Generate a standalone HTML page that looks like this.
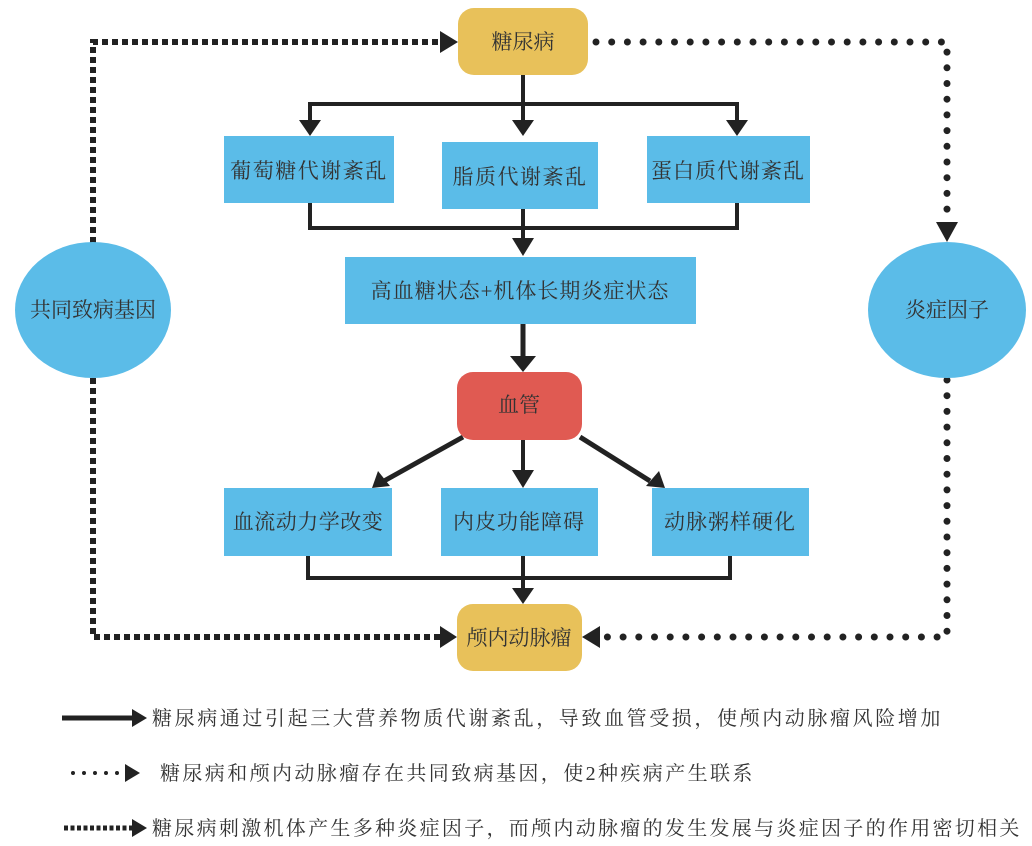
<!DOCTYPE html>
<html><head><meta charset="utf-8"><style>
html,body{margin:0;padding:0;background:#fff;}
svg{display:block;}
text{font-family:"Liberation Serif","Noto Serif CJK SC",serif;fill:#333;}
</style></head><body>
<svg width="1032" height="846" viewBox="0 0 1032 846" xmlns="http://www.w3.org/2000/svg">
<g stroke="#222" stroke-width="6" fill="none" stroke-dasharray="6 4">
<path d="M93,243 V42 H440"/>
<path d="M93,378 V637 H440"/>
</g>
<polygon points="440,31 458,42 440,53" fill="#222"/>
<polygon points="440,626 457,637 440,648" fill="#222"/>
<g stroke="#222" stroke-width="7" fill="none" stroke-dasharray="0 15.7" stroke-linecap="round">
<path d="M596,42 H947 V224"/>
<path d="M947,380 V637 H600"/>
</g>
<polygon points="936,222 958,222 947,242" fill="#222"/>
<polygon points="600,626 582,637 600,648" fill="#222"/>

<g stroke="#222" stroke-width="4" fill="none">
<path d="M523,75 V122"/>
<path d="M310,122 V104 H737 V122"/>
<path d="M310,203 V228 H737 V203"/>
<path d="M523,209 V240"/>
<path d="M523,324 V358" stroke-width="5"/>
<path d="M463,437 L384,481" stroke-width="5"/>
<path d="M523,440 V472"/>
<path d="M580,437 L650,481" stroke-width="5"/>
<path d="M308,556 V578 H730 V556"/>
<path d="M523,556 V590"/>
</g>
<g fill="#222">
<polygon points="299,120 321,120 310,136"/>
<polygon points="512,120 534,120 523,136"/>
<polygon points="726,120 748,120 737,136"/>
<polygon points="512,238 534,238 523,256"/>
<polygon points="510,356 536,356 523,372"/>
<polygon points="512,470 534,470 523,488"/>
<polygon points="512,588 534,588 523,604"/>
<polygon points="372,488 378,471 390,486"/>
<polygon points="665,488 646,486 659,471"/>
</g>

<rect x="458" y="8" width="130" height="67" rx="16" fill="#E8C15A"/>
<text x="523" y="49" font-size="21" text-anchor="middle">糖尿病</text>

<rect x="224" y="136" width="170" height="67" fill="#5BBCE8"/>
<text x="309" y="178" font-size="21" text-anchor="middle" letter-spacing="1.5">葡萄糖代谢紊乱</text>
<rect x="442" y="142" width="156" height="67" fill="#5BBCE8"/>
<text x="520" y="184" font-size="21" text-anchor="middle" letter-spacing="1.5">脂质代谢紊乱</text>
<rect x="647" y="136" width="163" height="67" fill="#5BBCE8"/>
<text x="728" y="178" font-size="21" text-anchor="middle" letter-spacing="1">蛋白质代谢紊乱</text>

<rect x="345" y="257" width="351" height="67" fill="#5BBCE8"/>
<text x="520" y="298" font-size="21" text-anchor="middle" letter-spacing="1">高血糖状态+机体长期炎症状态</text>

<rect x="457" y="372" width="125" height="68" rx="16" fill="#E05A52"/>
<text x="519" y="412" font-size="21" text-anchor="middle">血管</text>

<rect x="224" y="488" width="168" height="68" fill="#5BBCE8"/>
<text x="308" y="529" font-size="21" text-anchor="middle" letter-spacing="0.5">血流动力学改变</text>
<rect x="441" y="488" width="157" height="68" fill="#5BBCE8"/>
<text x="519" y="529" font-size="21" text-anchor="middle" letter-spacing="1">内皮功能障碍</text>
<rect x="652" y="488" width="157" height="68" fill="#5BBCE8"/>
<text x="730" y="529" font-size="21" text-anchor="middle" letter-spacing="1">动脉粥样硬化</text>

<rect x="457" y="604" width="125" height="67" rx="16" fill="#E8C15A"/>
<text x="519" y="645" font-size="21" text-anchor="middle">颅内动脉瘤</text>

<ellipse cx="93" cy="310" rx="78" ry="68" fill="#5BBCE8"/>
<text x="93" y="317" font-size="21" text-anchor="middle">共同致病基因</text>
<ellipse cx="947" cy="310" rx="79" ry="68" fill="#5BBCE8"/>
<text x="947" y="317" font-size="21" text-anchor="middle">炎症因子</text>

<line x1="62" y1="718" x2="134" y2="718" stroke="#222" stroke-width="5"/>
<polygon points="132,709 147,718 132,727" fill="#222"/>
<text x="152" y="725" font-size="20" letter-spacing="2.6">糖尿病通过引起三大营养物质代谢紊乱，导致血管受损，使颅内动脉瘤风险增加</text>

<line x1="73" y1="773" x2="120" y2="773" stroke="#222" stroke-width="4" stroke-dasharray="0 11" stroke-linecap="round"/>
<polygon points="125,764 140,773 125,782" fill="#222"/>
<text x="160" y="780" font-size="20" letter-spacing="2.4">糖尿病和颅内动脉瘤存在共同致病基因，使2种疾病产生联系</text>

<line x1="64" y1="828" x2="132" y2="828" stroke="#222" stroke-width="5" stroke-dasharray="4 2.5"/>
<polygon points="132,819 147,828 132,837" fill="#222"/>
<text x="152" y="835" font-size="20" letter-spacing="2.3">糖尿病刺激机体产生多种炎症因子，而颅内动脉瘤的发生发展与炎症因子的作用密切相关</text>
</svg>
</body></html>
